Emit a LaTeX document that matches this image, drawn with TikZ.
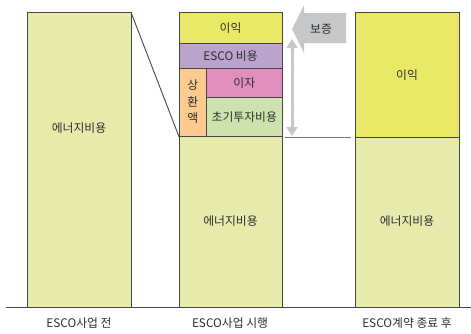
\documentclass[tikz,border=0pt]{standalone}
\usepackage{fontspec}
\setmainfont{Noto Sans CJK KR}
\usetikzlibrary{arrows.meta}
\definecolor{energy}{RGB}{230,235,172}
\definecolor{profit}{RGB}{233,232,103}
\definecolor{escoc}{RGB}{187,163,204}
\definecolor{interest}{RGB}{227,143,190}
\definecolor{initinv}{RGB}{205,226,173}
\definecolor{repay}{RGB}{253,202,143}
\definecolor{lgray}{RGB}{198,199,200}
\definecolor{txt}{RGB}{45,45,45}
\definecolor{edge}{RGB}{70,70,70}
\tikzset{
  seg/.style={draw=edge, line width=0.8pt, anchor=north west, inner sep=0pt, outer sep=0pt},
  lbl/.style={font=\fontsize{11.8}{13}\selectfont, text=txt, inner sep=0pt},
}
\begin{document}
\begin{tikzpicture}[x=1pt,y=-1pt]
\useasboundingbox (0,0) rectangle (471,333);
% left bar
\node[seg, fill=energy, minimum width=104pt, minimum height=295.4pt] (Lbar) at (27,12.3) {};
\node[lbl] (Ltxt) at (79,128) {에너지비용};
% middle bar
\node[seg, fill=energy, minimum width=103pt, minimum height=171pt] (Menergy) at (179,136.7) {};
\node[lbl] at (230.5,221.5) {에너지비용};
\node[seg, fill=profit, minimum width=103pt, minimum height=31pt] (Mprofit) at (179,12.3) {};
\node[lbl] at (230.5,28) {이익};
\node[seg, fill=escoc, minimum width=103pt, minimum height=25pt] (Mesco) at (179,43.3) {};
\node[lbl] at (230.5,56) {ESCO 비용};
\node[seg, fill=repay, minimum width=27.7pt, minimum height=68.4pt] (Mrepay) at (179,68.3) {};
\node[lbl, align=center, font=\fontsize{11.8}{16.5}\selectfont] at (192.8,102) {상\\환\\액};
\node[seg, fill=interest, minimum width=75.3pt, minimum height=29.4pt] (Mint) at (206.7,68.3) {};
\node[lbl] at (244.3,83) {이자};
\node[seg, fill=initinv, minimum width=75.3pt, minimum height=39pt] (Minit) at (206.7,97.7) {};
\node[lbl] at (244.3,117.5) {초기투자비용};
% right bar
\node[seg, fill=energy, minimum width=104pt, minimum height=170pt] (Renergy) at (355,137.7) {};
\node[lbl] at (407,221.5) {에너지비용};
\node[seg, fill=profit, minimum width=104pt, minimum height=125.4pt] (Rprofit) at (355,12.3) {};
\node[lbl] at (407,75) {이익};
% connector diagonal
\draw[edge, line width=0.9pt] (Lbar.north east) -- (Mrepay.south west);
% baseline
\coordinate (b0) at (6,307.7);
\coordinate (b1) at (471,307.7);
\draw[edge, line width=1pt] (b0) -- (b1);
% gray level line
\coordinate (g0) at (285,137.2);
\coordinate (g1) at (351,137.2);
\draw[black!55, line width=0.8pt] (g0) -- (g1);
% double arrow
\coordinate (d0) at (292,39);
\coordinate (d1) at (292,136);
\draw[lgray, line width=3pt, {Triangle[length=9pt,width=11pt]}-{Triangle[length=9pt,width=11pt]}] (d0) -- (d1);
% guarantee block arrow
\fill[lgray] (292,29) -- (304,5) -- (304,13) -- (346,13) -- (346,43) -- (304,43) -- (304,53) -- cycle;
\node[lbl] (guar) at (321,29) {보증};
% bottom labels
\node[lbl] (t1) at (79,323) {ESCO사업 전};
\node[lbl] (t2) at (230,323) {ESCO사업 시행};
\node[lbl] (t3) at (407,323) {ESCO계약 종료 후};
\end{tikzpicture}
\end{document}
